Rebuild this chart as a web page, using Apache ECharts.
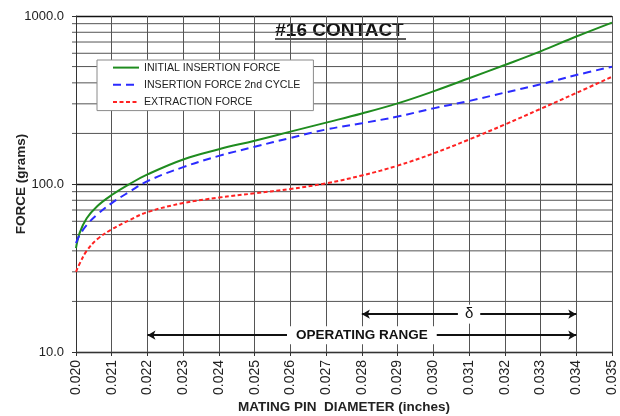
<!DOCTYPE html>
<html>
<head>
<meta charset="utf-8">
<script src="https://cdn.jsdelivr.net/npm/echarts@6/dist/echarts.min.js"></script>
<style>
html,body{margin:0;padding:0;background:#fff;}
#chart{width:620px;height:416px;}
</style>
</head>
<body>
<div id="chart"></div>
<script>
// Mating pin diameter, in thousandths of an inch (axis shows inches)
const diameterMils = [20.0, 20.1, 20.3, 20.6, 21.0, 21.5, 22, 23, 24, 25, 26, 27, 28, 29, 30, 31, 32, 33, 34, 35];
const initialInsertion = [41.5, 51, 62.5, 74, 86, 100, 114, 140, 161, 181, 205, 232, 263, 302, 356, 426, 511, 616, 755, 914];
const insertion2nd = [44.5, 49.5, 57, 66, 77, 90, 104, 126, 147, 166.5, 188, 211, 230, 252, 282, 312, 350, 392, 445, 499];
const extraction = [30, 33.5, 40, 47, 53.7, 61, 68, 77, 83, 88, 93.4, 101, 112.4, 128.6, 152, 184, 226, 280, 348, 435];
const seriesNames = ['INITIAL INSERTION FORCE', 'INSERTION FORCE 2nd CYCLE', 'EXTRACTION FORCE'];
const minorLevels = [20, 30, 40, 50, 60, 70, 80, 90, 200, 300, 400, 500, 600, 700, 800, 900];
const operatingRange = [22, 34];
const deltaRange = [28, 34];
const operatingY = 12.6;
const deltaY = 16.8;
const xMin = 20, xMax = 35;

const pair = (xs, ys) => xs.map((x, i) => [x, ys[i]]);
const FONT = '"Liberation Sans", Arial, sans-serif';

const chart = echarts.init(document.getElementById('chart'), null, {renderer: 'canvas'});
chart.setOption({
  animation: false,
  backgroundColor: '#fff',
  grid: {left: 76, right: 8, top: 16, bottom: 64, containLabel: false, outerBoundsMode: 'none'},
  xAxis: {
    type: 'value', min: xMin, max: xMax, interval: 1,
    name: 'MATING PIN  DIAMETER (inches)', nameLocation: 'middle', nameGap: 48, nameMoveOverlap: false,
    nameTextStyle: {fontFamily: FONT, fontSize: 13.5, fontWeight: 'bold', color: '#222'},
    axisLine: {lineStyle: {color: '#333', width: 1}},
    axisTick: {show: true, length: 4, lineStyle: {color: '#333'}},
    axisLabel: {rotate: 90, margin: 8, fontFamily: FONT, fontSize: 14, color: '#222',
      formatter: v => (v / 1000).toFixed(3)},
    splitLine: {show: true, lineStyle: {color: '#555', width: 1}}
  },
  yAxis: {
    type: 'log', logBase: 10, min: 10, max: 1000,
    name: 'FORCE (grams)', nameLocation: 'middle', nameGap: 48, nameMoveOverlap: false,
    nameTextStyle: {fontFamily: FONT, fontSize: 13.5, fontWeight: 'bold', color: '#222'},
    axisLine: {lineStyle: {color: '#333', width: 1}},
    axisTick: {show: true, length: 4, lineStyle: {color: '#333'}},
    axisLabel: {margin: 12, fontFamily: FONT, fontSize: 13, color: '#222',
      formatter: v => Number(v).toFixed(1)},
    splitLine: {show: true, lineStyle: {color: '#111', width: 1.3}}
  },
  legend: {
    data: seriesNames,
    orient: 'vertical', left: 97, top: 60,
    padding: [2, 13, 3, 15],
    itemGap: 6, itemWidth: 26, itemHeight: 14,
    backgroundColor: '#fff', borderColor: '#8a8a8a', borderWidth: 1,
    itemStyle: {opacity: 0},
    textStyle: {fontFamily: FONT, fontSize: 10.6, color: '#222'},
    z: 10
  },
  graphic: [{
    type: 'group', left: 271, top: 17, z: 20,
    children: [
      {type: 'rect', shape: {x: 0, y: 0, width: 137, height: 26}, style: {fill: '#fff'}},
      {type: 'text', x: 68.5, y: 14, style: {text: '#16 CONTACT', font: 'bold 19px ' + FONT,
        fill: '#111', textAlign: 'center', textVerticalAlign: 'middle'}},
      {type: 'line', shape: {x1: 4, y1: 22, x2: 135, y2: 22}, style: {stroke: '#222', lineWidth: 1.5}}
    ]
  }],
  series: [
    {
      type: 'custom', name: 'minorGrid', silent: true, z: 0, clip: false,
      data: minorLevels.map(v => [xMin, v]),
      renderItem: (params, api) => {
        const v = api.value(1);
        const p1 = api.coord([xMin, v]);
        const p2 = api.coord([xMax, v]);
        return {type: 'line', shape: {x1: p1[0] - 4, y1: p1[1], x2: p2[0], y2: p2[1]},
          style: {stroke: '#555', lineWidth: 1}};
      }
    },
    {
      type: 'line', name: seriesNames[0], data: pair(diameterMils, initialInsertion),
      smooth: 0.4, symbol: 'none', showSymbol: false, z: 5,
      lineStyle: {color: '#1f8c1f', width: 2}, itemStyle: {color: '#1f8c1f'}
    },
    {
      type: 'line', name: seriesNames[1], data: pair(diameterMils, insertion2nd),
      smooth: 0.4, symbol: 'none', showSymbol: false, z: 5,
      lineStyle: {color: '#2b2bff', width: 2, type: [8, 5]}, itemStyle: {color: '#2b2bff'}
    },
    {
      type: 'line', name: seriesNames[2], data: pair(diameterMils, extraction),
      smooth: 0.4, symbol: 'none', showSymbol: false, z: 5,
      lineStyle: {color: '#ff2222', width: 2, type: [4, 2.5]}, itemStyle: {color: '#ff2222'}
    },
    {
      type: 'line', name: 'annotations', data: [], z: 6,
      markLine: {
        silent: true, symbol: ['arrow', 'arrow'], symbolSize: [7, 8], precision: 3,
        lineStyle: {color: '#111', width: 2, type: 'solid'},
        data: [
          [{coord: [operatingRange[0], operatingY],
            label: {show: true, position: 'middle', formatter: 'OPERATING RANGE', distance: 0,
              verticalAlign: 'middle', align: 'center',
              fontFamily: FONT, fontSize: 13.5, fontWeight: 'bold', color: '#111',
              backgroundColor: '#fff', padding: [2, 9]}},
           {coord: [operatingRange[1], operatingY]}],
          [{coord: [deltaRange[0], deltaY],
            label: {show: true, position: 'middle', formatter: 'δ', distance: 0,
              verticalAlign: 'middle', align: 'center',
              fontFamily: FONT, fontSize: 15, color: '#111',
              backgroundColor: '#fff', padding: [2, 7]}},
           {coord: [deltaRange[1], deltaY]}]
        ]
      }
    }
  ]
});
</script>
</body>
</html>
